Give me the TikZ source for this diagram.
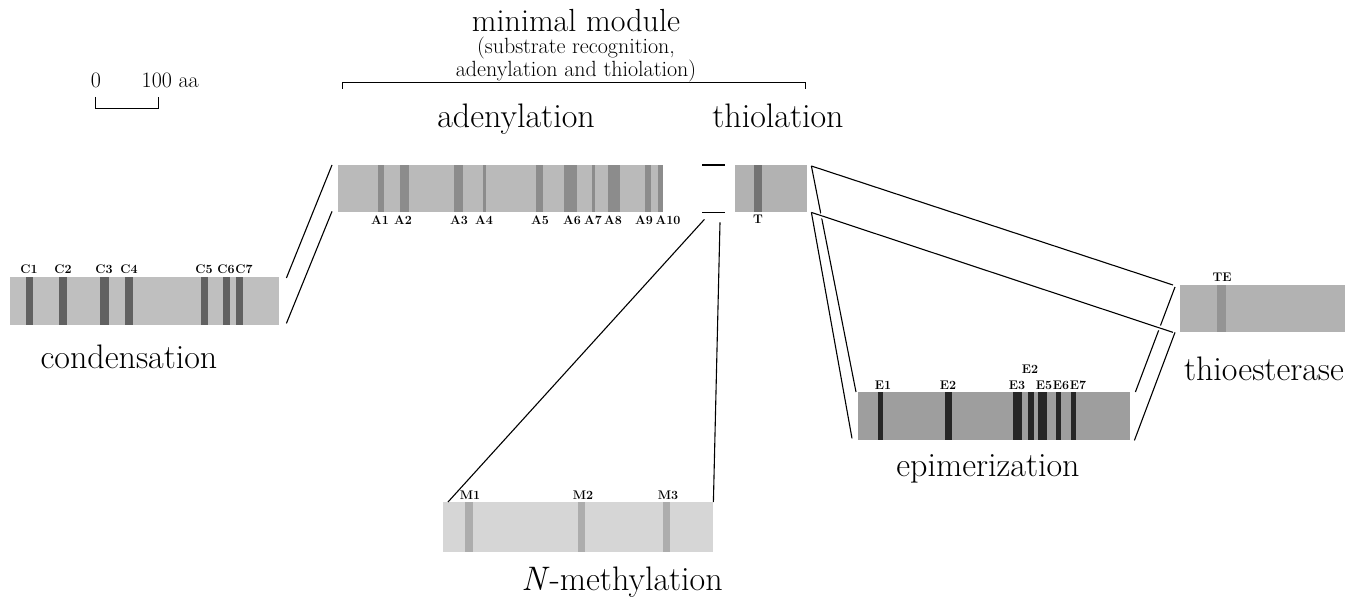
\documentclass[tikz,border=0pt]{standalone}
\usetikzlibrary{calc}
\begin{document}
\begin{tikzpicture}[x=1pt,y=-1pt,
  bar/.style={rectangle, draw=none, fill=#1, inner sep=0pt, anchor=north west},
  big/.style={font=\fontsize{34}{40}\selectfont, inner sep=0pt, anchor=base},
  sub/.style={font=\fontsize{22}{20}\selectfont, inner sep=0pt, align=center},
  tiny/.style={font=\fontsize{12.5}{13}\selectfont\bfseries, inner sep=0pt, anchor=base},
  conn/.style={draw=black, line width=1.1pt},
  halo/.style={conn, preaction={draw=white, line width=5pt, shorten <=9pt, shorten >=9pt}},
  cs/.style={fill=black!62},
  as/.style={fill=black!45},
  ts/.style={fill=black!55},
  ms/.style={fill=black!32},
  es/.style={fill=black!85},
  tes/.style={fill=black!42}]
\useasboundingbox (0,0) rectangle (1347,604);

% ---------- bars ----------
\node[bar=black!25, minimum width=269pt, minimum height=48pt] (cond) at (10,277) {};
\node[bar=black!27, minimum width=325pt, minimum height=47pt] (aden) at (338,165) {};
\node[bar=black!30, minimum width=72pt, minimum height=47pt] (thio) at (735,165) {};
\node[bar=black!16, minimum width=270pt, minimum height=50pt] (nmet) at (443,502) {};
\node[bar=black!38, minimum width=272pt, minimum height=48pt] (epi) at (858,392) {};
\node[bar=black!30, minimum width=165pt, minimum height=47pt] (te) at (1180,285) {};

% ---------- stripes ----------
\foreach \a/\b in {26/33,59/67,100/109,125/133,201/208,223/230,236/243}
  \fill[cs] (\a,277) rectangle (\b,325);
\foreach \a/\b in {378/384,400/409,454/463,483/486,536/543,564/577,592/595,608/620,645/651,658/663}
  \fill[as] (\a,165) rectangle (\b,212);
\fill[ts] (754,165) rectangle (762,212);
\foreach \a/\b in {465/473,578/585,663/670}
  \fill[ms] (\a,502) rectangle (\b,552);
\foreach \a/\b in {878/883,945/952,1013/1022,1028/1034,1038/1047,1056/1061,1071/1076}
  \fill[es] (\a,392) rectangle (\b,440);
\fill[tes] (1217,285) rectangle (1226,332);

% ---------- stripe labels ----------
\foreach \x/\t in {29/C1,63/C2,104/C3,129/C4,204/C5,226/C6,244/C7}
  \node[tiny] (lab\t) at (\x,273) {\t};
\foreach \x/\t in {380/A1,403/A2,459/A3,484/A4,540/A5,572/A6,593/A7,613/A8,644/A9,668/A10}
  \node[tiny] (lab\t) at (\x,225) {\t};
\node[tiny] (labT) at (758,224) {T};
\foreach \x/\t in {470/M1,583/M2,668/M3}
  \node[tiny] (lab\t) at (\x,499) {\t};
\foreach \x/\t in {883/E1,948/E2,1017/E3,1044/E5,1061/E6,1078/E7}
  \node[tiny] (lab\t) at (\x,389) {\t};
\node[tiny] (labEtwo) at (1030,373) {E2};
\node[tiny] (labTE) at (1222,281) {TE};

% ---------- big labels ----------
\node[big] (lcond) at (129,368) {condensation};
\node[big] (laden) at (516,128) {adenylation};
\node[big] (lthio) at (778,128) {thiolation};
\node[big] (lnmet) at (622,590) {\textit{N}-methylation};
\node[big] (lepi) at (988,476) {epimerization};
\node[big] (lte) at (1264,380) {thioesterase};
\node[big, font=\fontsize{32}{38}\selectfont] (lmin) at (576,32) {minimal module};
\node[sub, anchor=north] (lsub) at (576,37) {(substrate recognition,\\adenylation and thiolation)};

% ---------- minimal module bracket ----------
\coordinate (brL) at (342,82);
\coordinate (brR) at (805,82);
\draw[line width=0.9pt] ($(brL)+(0,7)$) -- (brL) -- (brR) -- ($(brR)+(0,7)$);

% ---------- scale ----------
\node[font=\fontsize{22}{26}\selectfont, inner sep=0pt, anchor=base] (szero) at (96,88) {0};
\node[font=\fontsize{22}{26}\selectfont, inner sep=0pt, anchor=base west] (shund) at (141.5,88) {100 aa};
\coordinate (scL) at (95,108);
\coordinate (scR) at (158,108);
\draw[line width=0.8pt] ($(scL)+(0,-11)$) -- (scL) -- (scR) -- ($(scR)+(0,-11)$);

% ---------- connectors ----------
\draw[conn] ($(cond.north east)+(7,1)$) -- ($(aden.north west)+(-6,0)$);
\draw[conn] ($(cond.south east)+(7,-2)$) -- ($(aden.south west)+(-6,-1)$);

\draw[conn] ($(aden.north east)+(39,0)$) -- ($(thio.north west)+(-10,0)$);
\draw[conn] ($(aden.south east)+(39,0)$) -- ($(thio.south west)+(-10,0)$);

\draw[conn] ($(aden.south east)+(41,7)$) -- ($(nmet.north west)+(5,0)$);
\draw[conn] ($(thio.south west)+(-15,10)$) -- ($(nmet.north east)+(0,0)$);

\draw[conn] ($(thio.north east)+(4,1)$) -- ($(epi.north west)+(-2,0)$);
\draw[conn] ($(epi.north east)+(5,0)$) -- ($(te.north west)+(-5,2)$);
\draw[halo] ($(thio.south east)+(4,0)$) -- ($(te.south west)+(-7,0)$);
\draw[conn] ($(thio.south east)+(4,0)$) -- ($(epi.south west)+(-6,-2)$);
\draw[conn] ($(epi.south east)+(4,0)$) -- ($(te.south west)+(-5,0)$);
\draw[conn] ($(thio.north east)+(4,1)$) -- ($(te.north west)+(-7,0)$);
\end{tikzpicture}
\end{document}
